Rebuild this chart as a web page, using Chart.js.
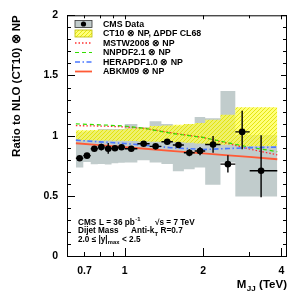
<!DOCTYPE html>
<html><head><meta charset="utf-8">
<script src="https://cdn.jsdelivr.net/npm/chart.js@4.4.0/dist/chart.umd.min.js"></script>
<style>html,body{margin:0;padding:0;background:#fff}#wrap{width:300px;height:300px}</style>
</head><body><div id="wrap"><canvas id="c" width="300" height="300"></canvas></div>
<script>
// ---- data ----
const binEdges    = [0.649,0.693,0.740,0.788,0.838,0.890,0.944,1.000,1.118,1.246,1.383,1.530,1.687,1.856,2.037,2.332,2.659,3.019,3.854];
const massCenters = [0.671,0.716,0.764,0.813,0.864,0.917,0.972,1.059,1.182,1.314,1.456,1.608,1.771,1.946,2.184,2.490,2.825,3.340];
const dataRatio   = [0.812,0.834,0.891,0.905,0.891,0.895,0.903,0.891,0.933,0.911,0.949,0.922,0.858,0.872,0.927,0.763,1.031,0.708];
const statErrUp   = [0.012,0.013,0.018,0.027,0.048,0.015,0.013,0.013,0.020,0.020,0.015,0.022,0.030,0.033,0.070,0.074,0.176,0.296];
const statErrDown = [0.012,0.013,0.018,0.027,0.042,0.015,0.013,0.013,0.020,0.020,0.015,0.022,0.030,0.035,0.070,0.069,0.145,0.220];
const sysLow      = [0.702,0.735,0.782,0.763,0.765,0.760,0.770,0.774,0.776,0.796,0.776,0.765,0.705,0.720,0.735,0.593,0.776,0.494];
const sysHigh     = [1.030,1.030,1.035,1.040,1.056,1.056,1.056,1.056,1.097,1.070,1.120,1.097,1.080,1.097,1.155,1.145,1.372,1.005];
const ct10Low     = [0.962,0.962,0.962,0.962,0.960,0.960,0.958,0.958,0.955,0.952,0.950,0.948,0.945,0.940,0.935,0.930,0.925,0.915];
const ct10High    = [1.045,1.045,1.045,1.047,1.048,1.050,1.050,1.052,1.060,1.065,1.080,1.085,1.090,1.097,1.105,1.133,1.174,1.235];
const theoryMass  = [0.649,0.800,1.000,1.200,1.500,2.000,2.500,3.000,3.854];
const mstw        = [1.083,1.080,1.073,1.060,1.025,0.985,0.935,0.890,0.840];
const nnpdf       = [1.098,1.090,1.080,1.060,1.020,0.985,0.940,0.905,0.867];
const herapdf     = [0.963,0.948,0.935,0.920,0.900,0.885,0.893,0.900,0.905];
const abkm        = [0.937,0.921,0.905,0.891,0.874,0.853,0.836,0.823,0.804];
const yTickValues = [0,0.5,1,1.5,2];
const yTickLabels = ['0','0.5','1','1.5','2'];
const yMinorTicks = [0.1,0.2,0.3,0.4,0.6,0.7,0.8,0.9,1.1,1.2,1.3,1.4,1.6,1.7,1.8,1.9];
const xTickValues = [0.7,0.8,0.9,1,2,3,4];
const xTickLabels = ['0.7','','','1','2','','4'];
const xMajorTicks = [1,2,4];
const legendLabels = ['CMS Data','CT10 \u2297 NP, \u0394PDF CL68','MSTW2008 \u2297 NP','NNPDF2.1 \u2297 NP','HERAPDF1.0 \u2297 NP','ABKM09 \u2297 NP'];

const FONT = '"Liberation Sans", Arial, Helvetica, sans-serif';
const GRAY = '#c1cccc';
const COL_MSTW = '#ff3030', COL_NNPDF = '#33dd00', COL_HERA = '#4a78ff', COL_ABKM = '#ff5a36';

function stepData(vals){
  const d = vals.map((v,i)=>({x:binEdges[i], y:v}));
  d.push({x:binEdges[binEdges.length-1], y:vals[vals.length-1]});
  return d;
}
function curve(vals){ return vals.map((v,i)=>({x:theoryMass[i], y:v})); }
function errorSegments(){
  const d = [];
  dataRatio.forEach((v,i)=>{
    d.push({x:binEdges[i], y:v},{x:binEdges[i+1], y:v},{x:binEdges[i+1], y:null});
    d.push({x:massCenters[i], y:v-statErrDown[i]},{x:massCenters[i], y:v+statErrUp[i]},{x:massCenters[i], y:null});
  });
  return d;
}
function makeYellow(){
  const c = document.createElement('canvas'); c.width = 4; c.height = 4;
  const g = c.getContext('2d');
  g.fillStyle = 'rgba(255,255,70,0.72)'; g.fillRect(0,0,4,4);
  g.fillStyle = 'rgba(225,225,0,0.85)';
  g.fillRect(0,0,1,1); g.fillRect(2,2,1,1); g.fillRect(1,3,1,1); g.fillRect(3,1,1,1);
  return g.createPattern(c,'repeat');
}
const yellowFill = makeYellow();

const framePlugin = {
  id:'frame',
  afterDraw(chart){
    const {ctx, chartArea:a, scales:{x,y}} = chart;
    ctx.save();
    ctx.strokeStyle = '#000'; ctx.lineWidth = 1;
    ctx.strokeRect(a.left+0.5, a.top+0.5, a.right-a.left-1, a.bottom-a.top);
    ctx.beginPath();
    yTickValues.forEach(v=>{const p=Math.round(y.getPixelForValue(v))+0.5;
      ctx.moveTo(a.left,p);ctx.lineTo(a.left+8,p);ctx.moveTo(a.right,p);ctx.lineTo(a.right-6,p);});
    yMinorTicks.forEach(v=>{const p=Math.round(y.getPixelForValue(v))+0.5;
      ctx.moveTo(a.left,p);ctx.lineTo(a.left+4,p);ctx.moveTo(a.right,p);ctx.lineTo(a.right-4,p);});
    xTickValues.forEach(v=>{const p=Math.round(x.getPixelForValue(v))+0.5;
      const major = xMajorTicks.includes(v);
      ctx.moveTo(p,a.bottom);ctx.lineTo(p,a.bottom-(major?8:4));
      ctx.moveTo(p,a.top);ctx.lineTo(p,a.top+(major?4:3));});
    ctx.stroke();

    // legend
    const rows = [24,33.5,43,52.5,62,71.5];
    const sx0 = 75, sx1 = 92;
    ctx.fillStyle = GRAY; ctx.fillRect(sx0, rows[0]-3.5, sx1-sx0, 7);
    ctx.strokeStyle = '#333'; ctx.lineWidth = 0.8; ctx.strokeRect(sx0, rows[0]-3.5, sx1-sx0, 7);
    ctx.fillStyle = '#000'; ctx.beginPath(); ctx.arc((sx0+sx1)/2, rows[0], 2.6, 0, Math.PI*2); ctx.fill();
    ctx.fillStyle = '#ffffff'; ctx.fillRect(sx0, rows[1]-3.5, sx1-sx0, 7);
    ctx.fillStyle = yellowFill; ctx.fillRect(sx0, rows[1]-3.5, sx1-sx0, 7);
    ctx.strokeStyle = '#bbbb00'; ctx.strokeRect(sx0, rows[1]-3.5, sx1-sx0, 7);
    const lineStyles = [[COL_MSTW,[1.5,2],1.3],[COL_NNPDF,[4,3],1.2],[COL_HERA,[5,2.5,1.5,2.5],1.6],[COL_ABKM,[],1.8]];
    lineStyles.forEach((s,k)=>{
      ctx.strokeStyle=s[0]; ctx.setLineDash(s[1]); ctx.lineWidth=s[2];
      ctx.beginPath(); ctx.moveTo(sx0, rows[k+2]); ctx.lineTo(sx1, rows[k+2]); ctx.stroke();
    });
    ctx.setLineDash([]);
    ctx.fillStyle = '#000'; ctx.font = 'bold 8.8px '+FONT; ctx.textBaseline = 'middle'; ctx.textAlign='left';
    legendLabels.forEach((t,k)=>ctx.fillText(t, 103, rows[k]+0.5));

    // annotation text
    ctx.textBaseline = 'alphabetic';
    const f = 'bold 8.2px '+FONT, fs = 'bold 5.8px '+FONT;
    ctx.font = f;
    ctx.fillText('CMS', 78, 225);
    let t = 'L = 36 pb'; ctx.fillText(t, 99, 225);
    let w = ctx.measureText(t).width;
    ctx.font = fs; ctx.fillText('-1', 99+w+0.5, 221);
    ctx.font = f; ctx.fillText('\u221As = 7 TeV', 155, 225);
    ctx.fillText('Dijet Mass', 78, 233.3);
    t = 'Anti-k'; ctx.fillText(t, 131, 233.3); w = ctx.measureText(t).width;
    ctx.font = fs; ctx.fillText('T', 131+w+0.3, 235.5); let w2 = ctx.measureText('T').width;
    ctx.font = f; ctx.fillText(' R=0.7', 131+w+w2+0.6, 233.3);
    t = '2.0 \u2264 |y|'; ctx.fillText(t, 78, 241.5); w = ctx.measureText(t).width;
    ctx.font = fs; ctx.fillText('max', 78+w+0.3, 243.8); w2 = ctx.measureText('max').width;
    ctx.font = f; ctx.fillText(' < 2.5', 78+w+w2+0.6, 241.5);

    // x axis title (right aligned): M_JJ (TeV)
    const ft = 'bold 11.5px '+FONT, fts = 'bold 8px '+FONT;
    ctx.font = ft; const wM = ctx.measureText('M').width, wT = ctx.measureText(' (TeV)').width;
    ctx.font = fts; const wJ = ctx.measureText('JJ').width;
    let xr = 287 - wT; 
    ctx.font = ft; ctx.fillText(' (TeV)', xr, 287.5);
    ctx.font = fts; ctx.fillText('JJ', xr - wJ - 0.3, 291);
    ctx.font = ft; ctx.fillText('M', xr - wJ - 0.6 - wM, 287.5);
    ctx.restore();
  }
};

new Chart(document.getElementById('c'), {
  type:'line',
  data:{datasets:[
    {label:'errors', data:errorSegments(), borderColor:'#000', borderWidth:1.4, pointRadius:0, spanGaps:false, fill:false},
    {label:'CMS Data', data:massCenters.map((m,i)=>({x:m,y:dataRatio[i]})), showLine:false, pointRadius:3.3, pointBackgroundColor:'#000', pointBorderColor:'#000', pointBorderWidth:0},
    {label:'ABKM09', data:curve(abkm), borderColor:COL_ABKM, borderWidth:1.8, pointRadius:0, fill:false},
    {label:'HERAPDF1.0', data:curve(herapdf), borderColor:COL_HERA, borderWidth:1.6, borderDash:[5,2.5,1.5,2.5], pointRadius:0, fill:false},
    {label:'NNPDF2.1', data:curve(nnpdf), borderColor:COL_NNPDF, borderWidth:1.2, borderDash:[4,3], pointRadius:0, fill:false},
    {label:'MSTW2008', data:curve(mstw), borderColor:COL_MSTW, borderWidth:1.3, borderDash:[1.5,2], pointRadius:0, fill:false},
    {label:'ct10Low', data:stepData(ct10Low), stepped:'after', borderWidth:0, borderColor:'rgba(0,0,0,0)', pointRadius:0, fill:false},
    {label:'ct10High', data:stepData(ct10High), stepped:'after', borderWidth:0, borderColor:'rgba(0,0,0,0)', pointRadius:0, fill:6, backgroundColor:yellowFill},
    {label:'sysLow', data:stepData(sysLow), stepped:'after', borderWidth:0, borderColor:'rgba(0,0,0,0)', pointRadius:0, fill:false},
    {label:'sysHigh', data:stepData(sysHigh), stepped:'after', borderWidth:0, borderColor:'rgba(0,0,0,0)', pointRadius:0, fill:8, backgroundColor:GRAY}
  ]},
  options:{
    responsive:false, animation:false, events:[],
    layout:{padding:{top:13,right:13,left:0,bottom:0}},
    plugins:{legend:{display:false}, tooltip:{enabled:false}},
    scales:{
      x:{type:'logarithmic', min:0.6, max:4.2,
        grid:{display:false, drawTicks:false}, border:{display:false},
        afterBuildTicks(s){ s.ticks = xTickValues.map(v=>({value:v})); },
        afterFit(s){ s.height = 44; },
        ticks:{autoSkip:false, maxRotation:0, padding:9, color:'#000', font:{family:FONT, weight:'bold', size:10.5},
          callback(v){ const i = xTickValues.indexOf(v); return i>=0 ? xTickLabels[i] : ''; }}
      },
      y:{type:'linear', min:0, max:2,
        grid:{display:false, drawTicks:false}, border:{display:false},
        afterBuildTicks(s){ s.ticks = yTickValues.map(v=>({value:v})); },
        afterFit(s){ s.width = 67; },
        ticks:{padding:9, color:'#000', font:{family:FONT, weight:'bold', size:10.5},
          callback(v){ const i = yTickValues.indexOf(v); return i>=0 ? yTickLabels[i] : ''; }},
        title:{display:true, text:'Ratio to NLO (CT10) \u2297 NP', align:'end', color:'#000',
          font:{family:FONT, weight:'bold', size:11.5}, padding:{top:10,bottom:0}}
      }
    }
  },
  plugins:[framePlugin]
});
</script></body></html>
